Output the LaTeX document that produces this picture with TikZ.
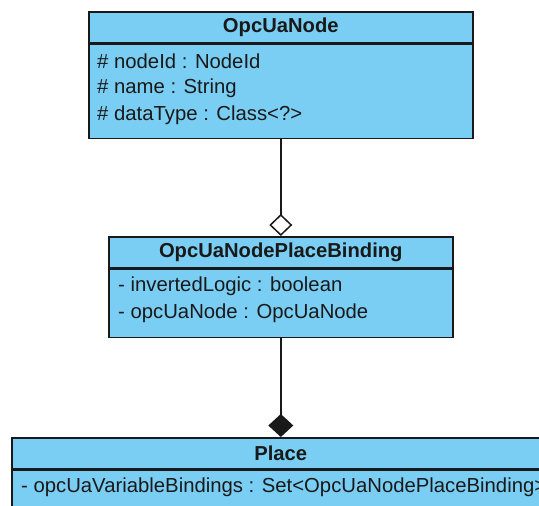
\documentclass[tikz,border=0pt]{standalone}
\usepackage{fontspec}
\setmainfont{Liberation Sans}
\usetikzlibrary{arrows.meta}
\definecolor{umlfill}{RGB}{122,206,244}
\definecolor{umlline}{RGB}{25,25,25}
\begin{document}
\begin{tikzpicture}[x=1pt,y=-1pt,
  hdr/.style={draw=umlline, fill=umlfill, line width=1.6pt, inner sep=0pt, font=\fontsize{20.2}{24}\selectfont\bfseries, text=umlline},
  body/.style={draw=umlline, fill=umlfill, line width=1.6pt, inner sep=0pt},
  attr/.style={anchor=west, inner sep=0pt, font=\fontsize{20.3}{24}\selectfont, text=umlline},
  conn/.style={draw=umlline, line width=1.5pt},
  agg/.style={conn, -{Diamond[open, length=22pt, width=23pt, line width=1.5pt]}},
  comp/.style={conn, -{Diamond[length=23pt, width=25pt]}}]
\clip (0,0) rectangle (539,506);
\fill[white] (0,0) rectangle (539,506);
% OpcUaNode
\node[hdr, minimum width=384pt, minimum height=31pt, anchor=north west] (n1) at (88,11) {OpcUaNode};
\node[body, minimum width=384pt, minimum height=94pt, anchor=north] (n1b) at (n1.south) {};
\node[attr] (a11) at (97,61) {\# nodeId : NodeId};
\node[attr] (a12) at (97,88) {\# name : String};
\node[attr] (a13) at (97,115) {\# dataType : Class<?>};
% OpcUaNodePlaceBinding
\node[hdr, minimum width=344pt, minimum height=31pt, anchor=north west] (n2) at (108,236) {OpcUaNodePlaceBinding};
\node[body, minimum width=344pt, minimum height=68pt, anchor=north] (n2b) at (n2.south) {};
\node[attr] (a21) at (118,286) {- invertedLogic : boolean};
\node[attr] (a22) at (118,313) {- opcUaNode : OpcUaNode};
% Place
\node[hdr, minimum width=538pt, minimum height=31pt, anchor=north west] (n3) at (11,437) {Place};
\node[body, minimum width=538pt, minimum height=60pt, anchor=north] (n3b) at (n3.south) {};
\node[attr] (a31) at (21,487) {- opcUaVariableBindings : Set<OpcUaNodePlaceBinding>};
% connectors
\draw[agg] (n1b.south) -- (n2.north);
\draw[comp] (n2b.south) -- (n3.north);
\end{tikzpicture}
\end{document}
